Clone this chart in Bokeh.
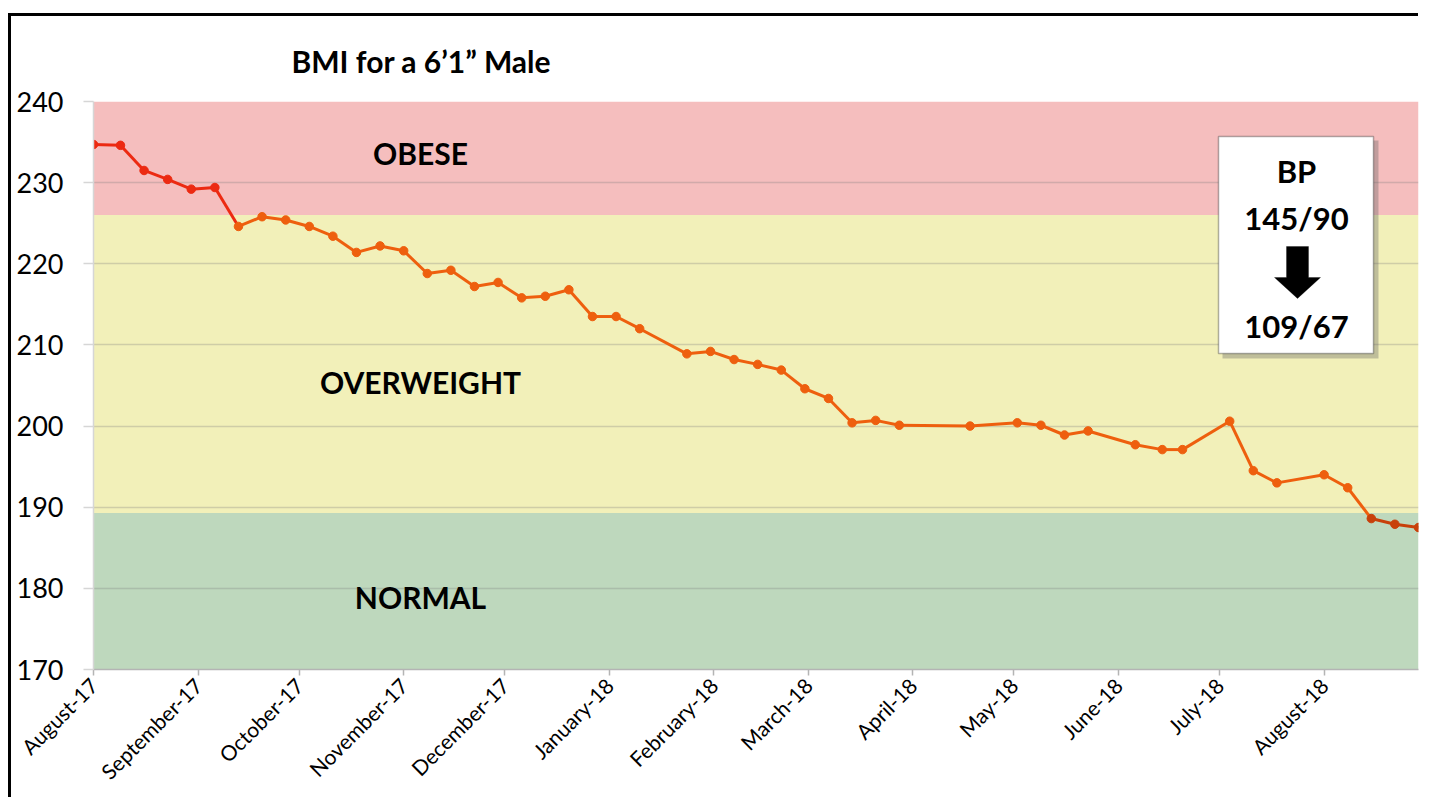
import math
import pandas as pd
from bokeh.plotting import figure
from bokeh.models import (Range1d, FixedTicker, DatetimeTickFormatter, BoxAnnotation,
                          Label, PolyAnnotation, ColumnDataSource)
from bokeh.embed import file_html
from bokeh.resources import INLINE

# ---------------- data ----------------
title_text = "BMI for a 6\u20191\u201d Male"

dates = ["2017-08-01", "2017-08-09", "2017-08-16", "2017-08-23", "2017-08-30",
         "2017-09-06", "2017-09-13", "2017-09-20", "2017-09-27", "2017-10-04",
         "2017-10-11", "2017-10-18", "2017-10-25", "2017-11-01", "2017-11-08",
         "2017-11-15", "2017-11-22", "2017-11-29", "2017-12-06", "2017-12-13",
         "2017-12-20", "2017-12-27", "2018-01-03", "2018-01-10", "2018-01-24",
         "2018-01-31", "2018-02-07", "2018-02-14", "2018-02-21", "2018-02-28",
         "2018-03-07", "2018-03-14", "2018-03-21", "2018-03-28", "2018-04-18",
         "2018-05-02", "2018-05-09", "2018-05-16", "2018-05-23", "2018-06-06",
         "2018-06-14", "2018-06-20", "2018-07-04", "2018-07-11", "2018-07-18",
         "2018-08-01", "2018-08-08", "2018-08-15", "2018-08-22", "2018-08-29"]

weights = [234.7, 234.6, 231.5, 230.4, 229.2,
           229.4, 224.6, 225.8, 225.4, 224.6,
           223.4, 221.4, 222.2, 221.6, 218.8,
           219.2, 217.2, 217.7, 215.8, 216.0,
           216.8, 213.5, 213.5, 212.0, 208.9,
           209.2, 208.2, 207.6, 206.9, 204.6,
           203.4, 200.4, 200.7, 200.1, 200.0,
           200.4, 200.1, 198.9, 199.4, 197.7,
           197.1, 197.1, 200.6, 194.5, 193.0,
           194.0, 192.4, 188.6, 187.9, 187.5]

y_ticks = [170, 180, 190, 200, 210, 220, 230, 240]

band_names = ["NORMAL", "OVERWEIGHT", "OBESE"]
band_bottoms = [170, 189.3, 226.0]
band_tops = [189.3, 226.0, 240]
band_colors = ["#BED8BD", "#F2F0B9", "#F5BEBE"]
line_colors = ["#C8400A", "#EE5F0E", "#EC2A12"]

bp_lines = ["BP", "145/90", "109/67"]

FONT = "Lato"

# ---------------- figure ----------------
x = [pd.Timestamp(d).to_pydatetime() for d in dates]
month_ticks = [m.timestamp() * 1000 for m in pd.date_range(dates[0], dates[-1], freq="MS")]

p = figure(width=1410, height=784, x_axis_type="datetime",
           output_backend="svg", toolbar_location=None,
           x_range=Range1d(x[0], x[-1]), y_range=Range1d(y_ticks[0], y_ticks[-1]),
           min_border_left=82, min_border_right=3, min_border_top=85, min_border_bottom=131,
           styles={"position": "relative", "left": "11px", "top": "16px",
                   "box-shadow": "-3px -3px 0px 0px #000000"})
p.outline_line_color = None
p.background_fill_color = "white"
p.border_fill_color = "white"

# title
p.title.text = title_text
p.title.align = "left"
p.title.offset = 198
p.title.standoff = 45
p.title.text_font = FONT
p.title.text_font_style = "bold"
p.title.text_font_size = "30px"
p.title.text_color = "black"

# bands
for b0, b1, c in zip(band_bottoms, band_tops, band_colors):
    p.add_layout(BoxAnnotation(bottom=b0, top=b1, fill_color=c, fill_alpha=1.0,
                               line_color=None, level="image"))

# grid
p.xgrid.visible = False
p.ygrid.ticker = FixedTicker(ticks=y_ticks)
p.ygrid.grid_line_color = "#7F7F7F"
p.ygrid.grid_line_alpha = 0.3
p.ygrid.grid_line_width = 1.5
p.ygrid.level = "underlay"

# axes
fmt = "%B-%y"
p.xaxis.ticker = FixedTicker(ticks=month_ticks)
p.xaxis.formatter = DatetimeTickFormatter(milliseconds=fmt, seconds=fmt, minsec=fmt, minutes=fmt,
                                          hourmin=fmt, hours=fmt, days=fmt, months=fmt, years=fmt)
p.xaxis.major_label_orientation = math.pi / 4
p.xaxis.major_label_text_font = FONT
p.xaxis.major_label_text_font_size = "21px"
p.xaxis.major_label_text_color = "black"
p.xaxis.axis_line_color = "#B4B4B4"
p.xaxis.axis_line_width = 1.5
p.xaxis.major_tick_line_color = "#B4B4B4"
p.xaxis.major_tick_line_width = 1.5
p.xaxis.major_tick_out = 6
p.xaxis.major_tick_in = 0
p.xaxis.minor_tick_line_color = None
p.xaxis.major_label_standoff = 6

p.yaxis.ticker = FixedTicker(ticks=y_ticks)
p.yaxis.major_label_text_font = FONT
p.yaxis.major_label_text_font_size = "27px"
p.yaxis.major_label_text_color = "black"
p.yaxis.axis_line_color = "#D6D6D6"
p.yaxis.axis_line_width = 1.5
p.yaxis.major_tick_line_color = "#D6D6D6"
p.yaxis.major_tick_line_width = 1.5
p.yaxis.major_tick_out = 10
p.yaxis.major_tick_in = 0
p.yaxis.minor_tick_line_color = None
p.yaxis.major_label_standoff = 20


def zone_color(v):
    for b0, b1, c in zip(band_bottoms, band_tops, line_colors):
        if b0 <= v < b1:
            return c
    return line_colors[-1]


seg = ColumnDataSource(dict(
    x0=x[:-1], y0=weights[:-1], x1=x[1:], y1=weights[1:],
    c=[zone_color((a + b) / 2) for a, b in zip(weights[:-1], weights[1:])]))
p.segment("x0", "y0", "x1", "y1", source=seg, line_color="c", line_width=3)

pts = ColumnDataSource(dict(x=x, y=weights, c=[zone_color(v) for v in weights]))
p.scatter("x", "y", source=pts, size=8.5, fill_color="c", line_color="c")

# band labels
band_label_y = {"OBESE": 136, "OVERWEIGHT": 365, "NORMAL": 580}
for name in band_names:
    p.add_layout(Label(x=409, y=band_label_y[name], x_units="canvas", y_units="canvas",
                       text=name, text_align="center", text_baseline="middle",
                       text_font=FONT, text_font_style="bold", text_font_size="30px",
                       text_color="black"))

# BP call-out box
p.add_layout(BoxAnnotation(left=1211, right=1367, top=124, bottom=342,
                           left_units="canvas", right_units="canvas",
                           top_units="canvas", bottom_units="canvas",
                           fill_color="#606060", fill_alpha=0.35, line_color=None))
p.add_layout(BoxAnnotation(left=1207, right=1362, top=120, bottom=337,
                           left_units="canvas", right_units="canvas",
                           top_units="canvas", bottom_units="canvas",
                           fill_color="white", fill_alpha=1.0,
                           line_color="black", line_width=1.5))
for txt, ty in zip(bp_lines, [154, 201, 309]):
    p.add_layout(Label(x=1285, y=ty, x_units="canvas", y_units="canvas", text=txt,
                       text_align="center", text_baseline="middle", text_font=FONT,
                       text_font_style="bold", text_font_size="31px", text_color="black"))
p.add_layout(PolyAnnotation(xs=[1275, 1297, 1297, 1309, 1286, 1263, 1275],
                            ys=[230, 230, 261, 261, 282, 261, 261],
                            xs_units="canvas", ys_units="canvas",
                            fill_color="black", fill_alpha=1.0, line_color="black"))

open("out.html", "w").write(file_html(p, INLINE))
